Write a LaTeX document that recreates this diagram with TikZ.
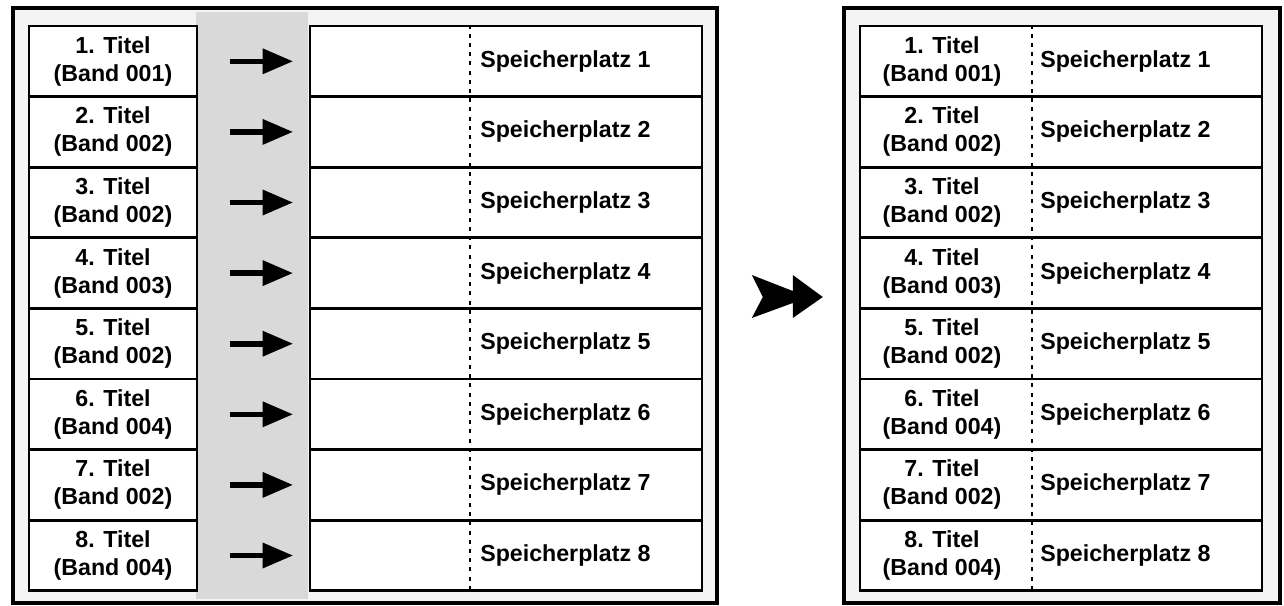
\documentclass[tikz,border=0pt]{standalone}
\usepackage{fontspec}
\setmainfont{Liberation Sans}
\usepackage{tikz}
\usetikzlibrary{positioning,arrows.meta,calc}

\begin{document}
\begin{tikzpicture}[
    font=\fontsize{16.5}{20}\selectfont\bfseries,
    frame/.style={
        draw=black,
        line width=0.08cm,
        minimum height=14.875cm,
        fill=gray!9,
        inner sep=0pt
    },
    titlebox/.style={
        draw=black,
        line width=0.07cm,
        minimum width=4.2cm,
        minimum height=1.765cm,
        fill=white,
        inner sep=0pt,
        align=center
    },
    slotbox/.style={
        draw=black,
        line width=0.07cm,
        minimum width=9.8cm,
        minimum height=1.765cm,
        fill=white,
        inner sep=0pt
    },
    rowbox/.style={
        draw=black,
        line width=0.07cm,
        minimum width=10.05cm,
        minimum height=1.765cm,
        fill=white,
        inner sep=0pt
    },
    lbl/.style={inner sep=0pt, align=center},
    sep/.style={black, line width=0.055cm, dash pattern=on 0.1cm off 0.13cm},
    arr/.style={
        line width=0.14cm,
        -{Triangle[length=0.75cm,width=0.65cm,line width=0pt]},
        shorten <=0.78cm,
        shorten >=0.4cm
    }
]
\useasboundingbox (0,0) rectangle (32.1,-15.125);

% frames
\node[frame, minimum width=17.6cm] (lframe) at (9.125,-7.6375) {};
\node[frame, minimum width=10.9cm] (rframe) at (26.55,-7.6375) {};

% grey band between titles and slots
\fill[gray!30] (4.9,-0.3) rectangle (7.7,-14.97);

% rows
\foreach \i/\b in {1/001,2/002,3/002,4/003,5/002,6/004,7/002,8/004} {
    \node[titlebox] (tl\i) at (2.825,{-1.765*\i+0.2325}) {\i. Titel\\(Band \b)};
    \node[slotbox] (sl\i) at (12.65,{-1.765*\i+0.2325}) {};
    \node[rowbox] (rr\i) at (26.525,{-1.765*\i+0.2325}) {};
    \node[lbl, anchor=west] (st\i) at (12.0,{-1.765*\i+0.2325}) {Speicherplatz \i};
    \node[lbl] (rt\i) at (23.55,{-1.765*\i+0.2325}) {\i. Titel\\(Band \b)};
    \node[lbl, anchor=west] (rs\i) at (26.0,{-1.765*\i+0.2325}) {Speicherplatz \i};
    \draw[arr] (tl\i) -- (sl\i);
}

% dashed separators
\draw[sep] ($(sl1.north)+(-0.9,0)$) -- ($(sl8.south)+(-0.9,0)$);
\draw[sep] ($(rr1.north)+(-0.725,0)$) -- ($(rr8.south)+(-0.725,0)$);

% double arrow between the frames
\coordinate (dbl) at ($(lframe.east)!0.357!(rframe.west)$);
\fill[black, shift={(dbl)}, yshift=0.2125cm]
    (-0.275,0.55) -- (0.75,0.15) -- (0.75,0.55) -- (1.5,0) --
    (0.75,-0.525) -- (0.75,-0.15) -- (-0.275,-0.525) -- (0,0) -- cycle;

\end{tikzpicture}
\end{document}
